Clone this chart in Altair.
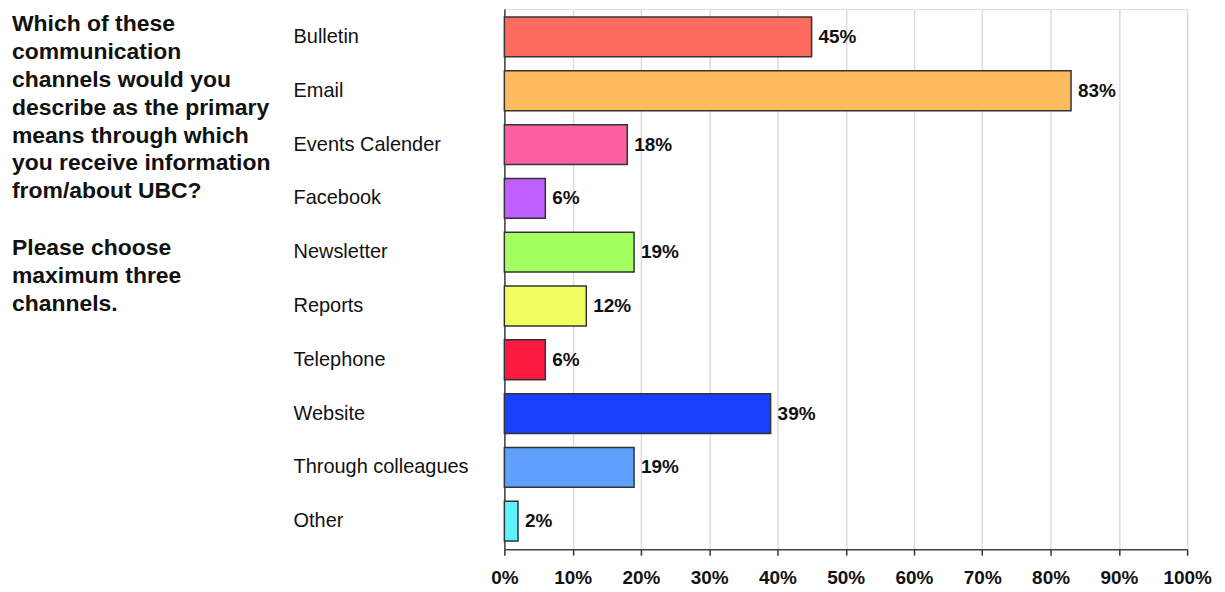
import altair as alt
import pandas as pd

categories = ["Bulletin", "Email", "Events Calender", "Facebook", "Newsletter",
              "Reports", "Telephone", "Website", "Through colleagues", "Other"]
values = [45, 83, 18, 6, 19, 12, 6, 39, 19, 2]
colors = ["#FF6B5F", "#FFBB5E", "#FF5FA0", "#BF5FFF", "#A2FF5F",
          "#F0FF5F", "#FF1A40", "#1A40FF", "#5FA0FF", "#5FF2FF"]
question_lines = ["Which of these", "communication", "channels would you",
                  "describe as the primary", "means through which",
                  "you receive information", "from/about UBC?"]
instruction_lines = ["Please choose", "maximum three", "channels."]

df = pd.DataFrame({"cat": categories, "val": values,
                   "label": [f"{v}%" for v in values]})

FONT = "Liberation Sans"
W, H = 685, 542
LH = 28

y_enc = alt.Y("cat:N", sort=categories,
              scale=alt.Scale(paddingInner=0.26, paddingOuter=0.15),
              axis=alt.Axis(title=None, ticks=False, labelAlign="left",
                            labelPadding=212, labelFont=FONT, labelFontSize=20,
                            labelColor="#111", domainColor="#444",
                            domainWidth=1.5, grid=False))
x_enc = alt.X("val:Q", scale=alt.Scale(domain=[0, 100], nice=False),
              axis=alt.Axis(title=None, values=list(range(0, 101, 10)),
                            labelExpr="datum.value + '%'", labelFont=FONT,
                            labelFontSize=19, labelFontWeight="bold",
                            labelColor="#111", labelPadding=13,
                            tickSize=6, tickColor="#333", tickWidth=1.5,
                            domainColor="#444", domainWidth=1.5,
                            grid=True, gridColor="#dcdcdc", gridWidth=1.5,
                            labelFlush=False))

bars = alt.Chart(df).mark_bar(stroke="#333", strokeWidth=1.5).encode(
    x=x_enc, y=y_enc,
    color=alt.Color("cat:N", sort=categories,
                    scale=alt.Scale(domain=categories, range=colors),
                    legend=None))

texts = alt.Chart(df).mark_text(align="left", baseline="middle", dx=7,
                                font=FONT, fontSize=19, fontWeight="bold",
                                color="#111").encode(
    x="val:Q", y=alt.Y("cat:N", sort=categories), text="label:N")


def text_block(lines, top):
    d = pd.DataFrame({"t": ["\n".join(lines)]})
    return alt.Chart(d).mark_text(align="left", baseline="top",
                                  lineBreak="\n", lineHeight=LH,
                                  font=FONT, fontSize=23,
                                  fontWeight="bold", color="#111").encode(
        x=alt.value(-494), y=alt.value(top), text="t:N")


q_block = text_block(question_lines, 4)
i_block = text_block(instruction_lines, 4 + LH * (len(question_lines) + 1) + 1)

chart = alt.layer(bars, texts, q_block, i_block).properties(
    width=W, height=H,
    padding={"left": 4, "top": 0, "right": 5, "bottom": 5}
).configure_view(stroke=None).configure(background="white")

chart.save("out.html", embed_options={"renderer": "svg", "actions": False})
